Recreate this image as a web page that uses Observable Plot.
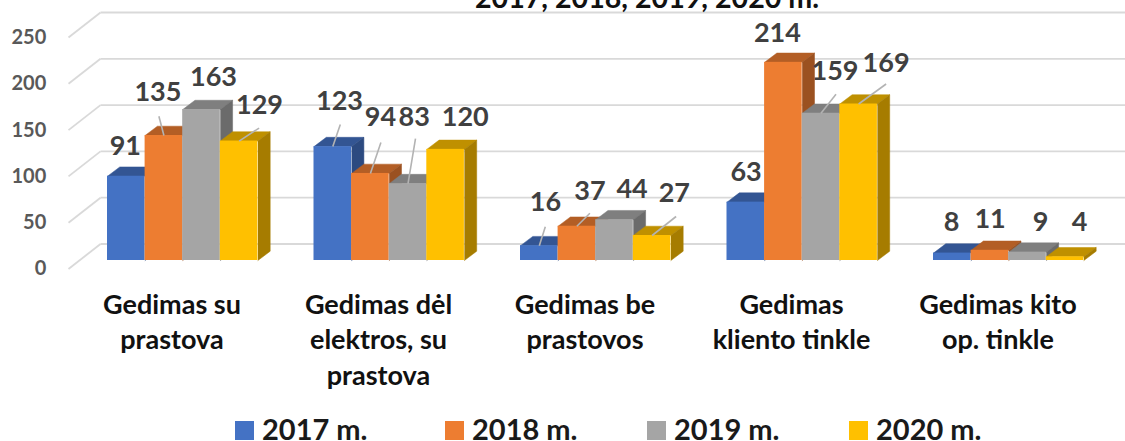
<!DOCTYPE html>
<html>
<head>
<meta charset="utf-8">
<script src="https://cdn.jsdelivr.net/npm/d3@7"></script>
<script src="https://cdn.jsdelivr.net/npm/@observablehq/plot@0.6"></script>
<style>
html,body{margin:0;padding:0;background:#fff;overflow:hidden}
#legend{position:relative;height:29px;font:700 29px Lato,sans-serif;color:#1a1a1a}
#legend i{position:absolute;top:9px;width:18.5px;height:18.5px}
#legend span{position:absolute;top:5px;line-height:24px;white-space:nowrap}
</style>
</head>
<body>
<div id="chart"></div>
<div id="legend"></div>
<script>
const categories = ["Gedimas su\nprastova", "Gedimas dėl\nelektros, su\nprastova", "Gedimas be\nprastovos", "Gedimas\nkliento tinkle", "Gedimas kito\nop. tinkle"];
const years = ["2017 m.", "2018 m.", "2019 m.", "2020 m."];
const values2017 = [91, 123, 16, 63, 8];
const values2018 = [135, 94, 37, 214, 11];
const values2019 = [163, 83, 44, 159, 9];
const values2020 = [129, 120, 27, 169, 4];
const yTicks = [0, 50, 100, 150, 200, 250];
const title = "2017, 2018, 2019, 2020 m.";

const series = [values2017, values2018, values2019, values2020];
const frontColors = ["#4472c4", "#ed7d31", "#a5a5a5", "#ffc000"];
const topColors = ["#335593", "#b35e25", "#7f7f7f", "#bf9000"];
const sideColors = ["#2c4a80", "#9b5120", "#6b6b6b", "#a67c00"];

// Layout: one x unit is a category step, y units are the chart's values.
const W = 1125, H = 412, mL = 78.75, mR = 13.75, mT = 28.5, mB = 152;
const pxX = p => p / ((W - mL - mR) / 5);
const pxY = p => p / ((H - mT - mB) / 250);
const barW = pxX(37.6), gap = pxX(28.25);
const left = (c, s) => c + gap + s * barW;
const depthX = pxX(12.3), depthY = pxY(9.3);

// hand-placed label offsets [dx, dy] from the bar's top centre, as in the source
const labelOffset = [
  [[-1,-30],[6.7,-45],[6.2,-43],[0.3,-30],[-0.8,-31]],
  [[-6,-43],[10,-56],[13,-35],[-6,-29],[0.2,-31]],
  [[12,-32],[6.2,-66],[17.6,-30],[14,-42],[13,-30]],
  [[20.4,-36],[19.6,-32],[22.2,-42],[27.5,-40.5],[14.4,-34.6]]
];
// leader line ends, same convention; null = no leader
const leaderOffset = [
  [null,[7.5,-22],[6,-19],null,null],
  [[-5,-19.3],[10.5,-31],[13,-13],null,null],
  [null,[7.5,-45],null,[15,-19],null],
  [[20,-13],null,[24,-19],[27.5,-20],null]
];

const bars = series.flatMap((vals, s) => vals.map((v, c) => ({
  c, s, v, x1: left(c, s), x2: left(c, s) + barW, xm: left(c, s) + barW / 2,
  off: labelOffset[s][c], lead: leaderOffset[s][c]
})));

const marks = [];

// back wall and floor diagonals
const wallDy = pxY(16.5), frontDx = pxX(32), frontDy = pxY(25);
const wallX1 = pxX(100 - mL), wallX2 = pxX(W - mL);
const gridStyle = {stroke: "#d9d9d9", strokeWidth: 1.8};
marks.push(Plot.link(yTicks, {x1: () => wallX1, x2: () => wallX2, y1: d => d + wallDy, y2: d => d + wallDy, ...gridStyle}));
marks.push(Plot.link(yTicks, {x1: () => wallX1 - frontDx, x2: () => wallX1, y1: d => d + wallDy - frontDy, y2: d => d + wallDy, ...gridStyle}));

// bars: painted series by series, so each front covers its neighbour's side
series.forEach((_, s) => {
  const rows = bars.filter(b => b.s === s);
  const top = rows.flatMap(b => [
    {id: b.c, x: b.x1, y: b.v}, {id: b.c, x: b.x1 + depthX, y: b.v + depthY},
    {id: b.c, x: b.x2 + depthX, y: b.v + depthY}, {id: b.c, x: b.x2, y: b.v}
  ]);
  const side = rows.flatMap(b => [
    {id: b.c, x: b.x2, y: 0}, {id: b.c, x: b.x2 + depthX, y: depthY},
    {id: b.c, x: b.x2 + depthX, y: b.v + depthY}, {id: b.c, x: b.x2, y: b.v}
  ]);
  marks.push(Plot.line(top, {x: "x", y: "y", z: "id", fill: topColors[s], stroke: topColors[s], strokeWidth: 0.5}));
  marks.push(Plot.line(side, {x: "x", y: "y", z: "id", fill: sideColors[s], stroke: sideColors[s], strokeWidth: 0.5}));
  marks.push(Plot.rect(rows, {x1: "x1", x2: "x2", y1: () => 0, y2: "v", fill: frontColors[s]}));
});

// leader lines
marks.push(Plot.link(bars.filter(b => b.lead), {
  x1: "xm", y1: "v",
  x2: b => b.xm + pxX(b.lead[0]), y2: b => b.v - pxY(b.lead[1]),
  stroke: "#b3b3b3", strokeWidth: 1.6
}));

// data labels
marks.push(Plot.text(bars, {
  x: b => b.xm + pxX(b.off[0]), y: b => b.v - pxY(b.off[1]), text: b => String(b.v),
  fontSize: 27, fontWeight: 700, fontFamily: "Lato", fill: "#404040"
}));

// value axis
marks.push(Plot.axisY(yTicks, {
  anchor: "left", label: null, tickSize: 0, tickPadding: 33, dy: 8.5,
  fontSize: 20, fontWeight: 700, fontFamily: "Lato", fill: "#595959"
}));

// category labels
marks.push(Plot.text(categories, {
  x: (d, i) => i + 0.5 - pxX(10.5), y: () => 0, text: d => d, dy: 28, lineAnchor: "top",
  lineHeight: 1.315, fontSize: 27, fontWeight: 700, fontFamily: "Lato", fill: "#111"
}));

// title, cropped by the top edge as in the reference
marks.push(Plot.text([title], {
  x: () => pxX(646.5 - mL), frameAnchor: "top", dy: 7 - mT, lineAnchor: "bottom", text: d => d,
  fontSize: 28.6, fontWeight: 700, fontFamily: "Lato", fill: "#111"
}));

const plot = Plot.plot({
  width: W, height: H, marginLeft: mL, marginRight: mR, marginTop: mT, marginBottom: mB,
  style: {background: "#fff", overflow: "hidden"},
  x: {domain: [0, 5], axis: null},
  y: {domain: [0, 250], axis: null},
  marks
});
document.getElementById("chart").appendChild(plot);

const legend = document.getElementById("legend");
const swatchX = [235, 445, 647, 849];
years.forEach((y, i) => {
  const sw = document.createElement("i");
  sw.style.left = swatchX[i] + "px";
  sw.style.background = frontColors[i];
  legend.appendChild(sw);
  const t = document.createElement("span");
  t.style.left = (swatchX[i] + 27) + "px";
  t.textContent = y;
  legend.appendChild(t);
});
</script>
</body>
</html>
